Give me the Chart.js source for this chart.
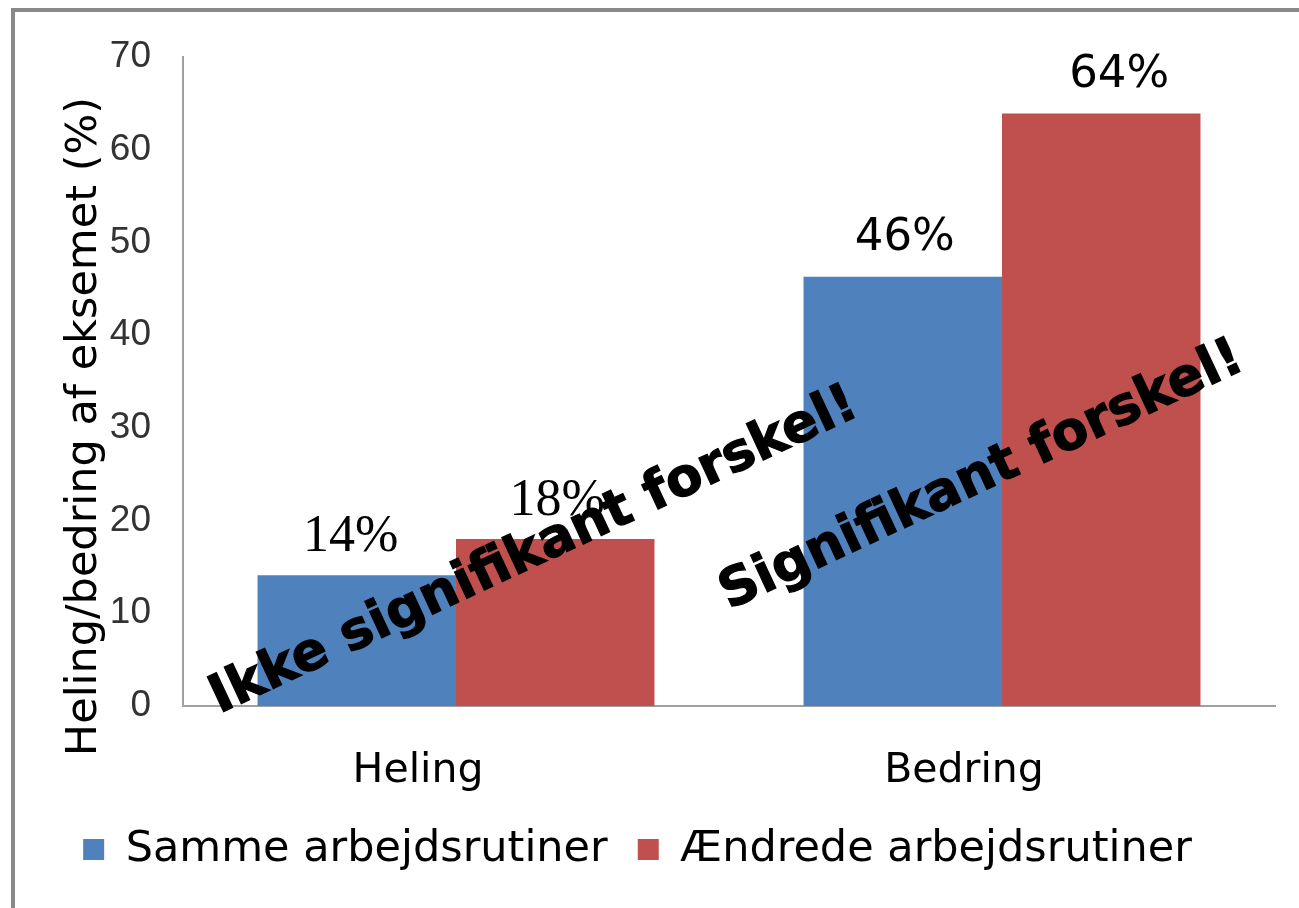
<!DOCTYPE html>
<html>
<head>
<meta charset="utf-8">
<script src="https://cdn.jsdelivr.net/npm/chart.js@4/dist/chart.umd.min.js"></script>
<style>
  body { margin: 0; background: #fff; overflow: hidden; }
  #frame { position: absolute; left: 11px; top: 8px; width: 1400px; height: 1000px; border: 4px solid #898989; }
  #dataChart { position: absolute; left: 0; top: 0; }
</style>
</head>
<body>
<div id="frame"></div>
<canvas id="dataChart" width="1299" height="908"></canvas>
<script>
const categories = ['Heling', 'Bedring'];
const seriesNames = ['Samme arbejdsrutiner', 'Ændrede arbejdsrutiner'];
const sammeValues = [14.1, 46.3];
const aendredeValues = [18.0, 63.9];
const yTicks = [0, 10, 20, 30, 40, 50, 60, 70];
const yTitle = 'Heling/bedring af eksemet (%)';

// text written diagonally over the bars, placed in category/value units
const noteTexts = ['Ikke signifikant forskel!', 'Signifikant forskel!'];
const noteCategoryPos = [0.154, 0.974];
const noteValuePos = [15.3, 23.4];

const blue = '#4F81BD';
const red = '#C0504D';
const sans = '"DejaVu Sans", Verdana, sans-serif';

const valueLabels = {
  id: 'valueLabels',
  afterDatasetsDraw(chart) {
    const ctx = chart.ctx;
    // labels were nudged by hand in the original, [dataset][category]
    const nudge = [[-6, 2], [2, 18]];
    ctx.save();
    ctx.fillStyle = '#000';
    ctx.textAlign = 'center';
    ctx.textBaseline = 'middle';
    chart.data.datasets.forEach((ds, di) => {
      const meta = chart.getDatasetMeta(di);
      meta.data.forEach((bar, i) => {
        // the Heling labels are set in a serif face in the original
        ctx.font = i === 0 ? '52px "Liberation Serif", serif' : '45px ' + sans;
        ctx.fillText(Math.round(ds.data[i]) + '%', bar.x + nudge[di][i], bar.y - 38);
      });
    });
    ctx.restore();
  }
};

const notes = {
  id: 'notes',
  afterDraw(chart) {
    const ctx = chart.ctx;
    const xs = chart.scales.x;
    const ys = chart.scales.y;
    const area = chart.chartArea;
    ctx.save();
    ctx.fillStyle = '#000';
    ctx.strokeStyle = '#000';
    ctx.lineWidth = 1.2;
    ctx.font = 'bold 53px ' + sans;
    ctx.textAlign = 'center';
    ctx.textBaseline = 'alphabetic';
    noteTexts.forEach((t, i) => {
      ctx.save();
      ctx.translate(xs.getPixelForValue(noteCategoryPos[i]), ys.getPixelForValue(noteValuePos[i]));
      ctx.rotate(-25 * Math.PI / 180);
      ctx.fillText(t, 0, 0);
      ctx.strokeText(t, 0, 0);
      ctx.restore();
    });

    // y axis title, sits a little below the middle of the plot
    ctx.font = '43px ' + sans;
    ctx.textBaseline = 'middle';
    ctx.translate(85, (area.top + area.bottom) / 2 + 45);
    ctx.rotate(-Math.PI / 2);
    ctx.fillText(yTitle, 0, 0);
    ctx.restore();
  }
};

const ctx = document.getElementById('dataChart').getContext('2d');
const myChart = new Chart(ctx, {
  type: 'bar',
  data: {
    labels: categories,
    datasets: [{
      label: seriesNames[0],
      data: sammeValues,
      backgroundColor: blue,
      borderWidth: 0,
      barPercentage: 1,
      categoryPercentage: 0.727,
    }, {
      label: seriesNames[1],
      data: aendredeValues,
      backgroundColor: red,
      borderWidth: 0,
      barPercentage: 1,
      categoryPercentage: 0.727,
    }],
  },
  options: {
    responsive: false,
    animation: false,
    devicePixelRatio: 1,
    layout: {
      padding: { left: 0, top: 57, right: 24, bottom: 27 },
    },
    plugins: {
      tooltip: { enabled: false },
      legend: {
        position: 'bottom',
        labels: {
          boxWidth: 21,
          boxHeight: 21,
          padding: 30,
          color: '#000',
          font: { family: sans, size: 43 },
        },
      },
    },
    scales: {
      x: {
        grid: { display: false, drawTicks: false },
        border: { display: true, color: '#a0a0a0', width: 2 },
        ticks: {
          color: '#000',
          padding: 41,
          labelOffset: -38,
          font: { family: sans, size: 41 },
        },
        afterFit(scale) { scale.height = 92; },
      },
      y: {
        min: 0,
        max: 70,
        grid: { display: false, drawTicks: false },
        border: { display: true, color: '#a0a0a0', width: 2 },
        afterBuildTicks(scale) { scale.ticks = yTicks.map(v => ({ value: v })); },
        ticks: {
          color: '#333',
          padding: 32,
          font: { family: '"Liberation Sans Narrow", "Liberation Sans", sans-serif', size: 37 },
        },
        afterFit(scale) { scale.width = 183; },
      },
    },
  },
  plugins: [valueLabels, notes],
});
</script>
</body>
</html>
